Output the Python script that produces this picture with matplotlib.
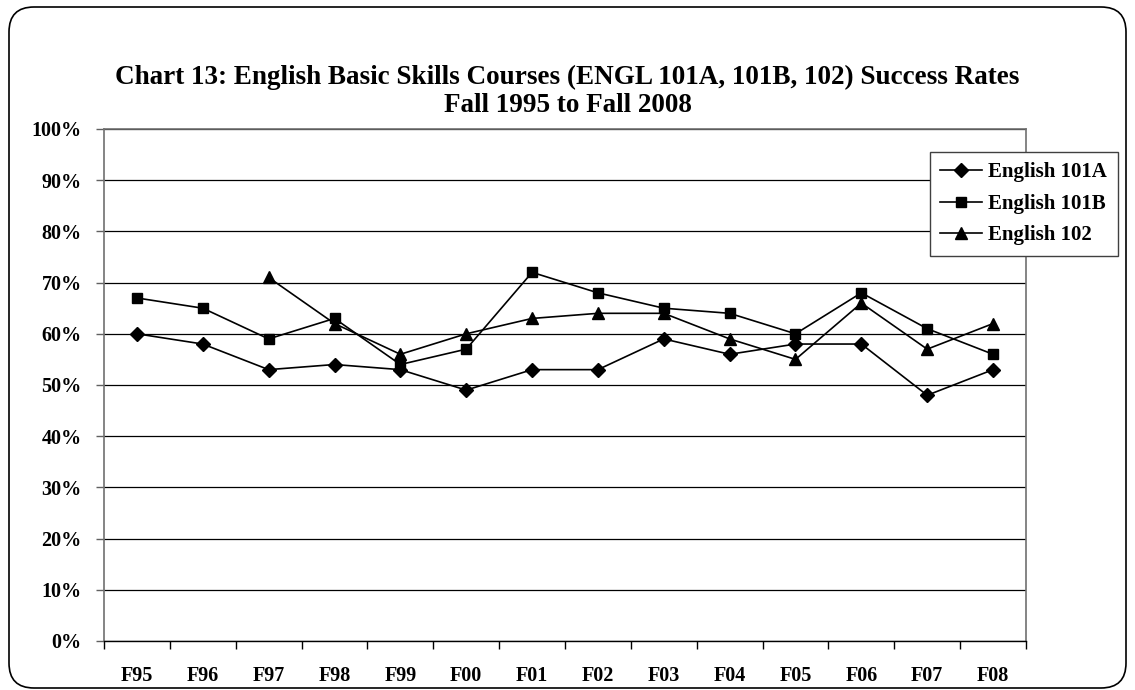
import matplotlib.pyplot as plt
from matplotlib.patches import FancyBboxPatch
from matplotlib.ticker import FixedLocator, PercentFormatter

terms = ['F95', 'F96', 'F97', 'F98', 'F99', 'F00', 'F01',
         'F02', 'F03', 'F04', 'F05', 'F06', 'F07', 'F08']
engl_101a = [60, 58, 53, 54, 53, 49, 53, 53, 59, 56, 58, 58, 48, 53]
engl_101b = [67, 65, 59, 63, 54, 57, 72, 68, 65, 64, 60, 68, 61, 56]
engl_102 = [None, None, 71, 62, 56, 60, 63, 64, 64, 59, 55, 66, 57, 62]

plt.rcParams['font.family'] = ['Liberation Serif', 'DejaVu Serif']
plt.rcParams['font.weight'] = 'bold'

fig = plt.figure(figsize=(11.35, 6.9), dpi=100)
ax = fig.add_axes([104 / 1135, 1 - 641 / 690, 922 / 1135, 512 / 690])

# rounded frame around the whole chart
frame = FancyBboxPatch((9 / 1135, 2 / 690), 1117 / 1135, 681 / 690,
                       boxstyle='round,pad=0,rounding_size=0.022',
                       transform=fig.transFigure, fill=False,
                       edgecolor='black', linewidth=1.2, mutation_aspect=1135 / 690)
fig.patches.append(frame)

x = list(range(len(terms)))
y102 = [float('nan') if v is None else v for v in engl_102]

ax.plot(x, engl_101a, color='black', lw=1.2, marker='D', ms=7, label='English 101A')
ax.plot(x, engl_101b, color='black', lw=1.2, marker='s', ms=7.5, label='English 101B')
ax.plot(x, y102, color='black', lw=1.2, marker='^', ms=8.5, label='English 102')

ax.set_xlim(-0.5, len(terms) - 0.5)
ax.set_ylim(0, 100)
ax.set_yticks(range(0, 101, 10))
ax.yaxis.set_major_formatter(PercentFormatter(decimals=0))
ax.set_xticks(x)
ax.set_xticklabels(terms)
ax.xaxis.set_minor_locator(FixedLocator([i - 0.5 for i in range(len(terms) + 1)]))
ax.tick_params(axis='x', which='major', length=0, pad=18, labelsize=14.5)
ax.tick_params(axis='x', which='minor', length=6, width=1, color='black')
ax.tick_params(axis='y', length=6, width=1, pad=10, labelsize=14.5, color='#606060')

ax.grid(axis='y', color='black', lw=0.9)
ax.set_axisbelow(True)
for side in ['left', 'right', 'top']:
    ax.spines[side].set_color('#707070')
    ax.spines[side].set_linewidth(1.2)
ax.spines['bottom'].set_color('black')
ax.spines['bottom'].set_linewidth(1)

leg = ax.legend(loc='upper left', bbox_to_anchor=(930 / 1135, 1 - 152 / 690),
                bbox_transform=fig.transFigure, fontsize=15, frameon=True,
                fancybox=False, edgecolor='#404040', framealpha=1, borderaxespad=0,
                handlelength=2.0, handletextpad=0.3, borderpad=0.5, labelspacing=0.55)
leg.get_frame().set_linewidth(1)

fig.text(0.5, 1 - 77 / 690,
         'Chart 13: English Basic Skills Courses (ENGL 101A, 101B, 102) Success Rates',
         ha='center', va='center', fontsize=19.5, fontweight='bold')
fig.text(0.5, 1 - 106 / 690, 'Fall 1995 to Fall 2008',
         ha='center', va='center', fontsize=19.5, fontweight='bold')

fig.savefig('out.png', dpi=100)
